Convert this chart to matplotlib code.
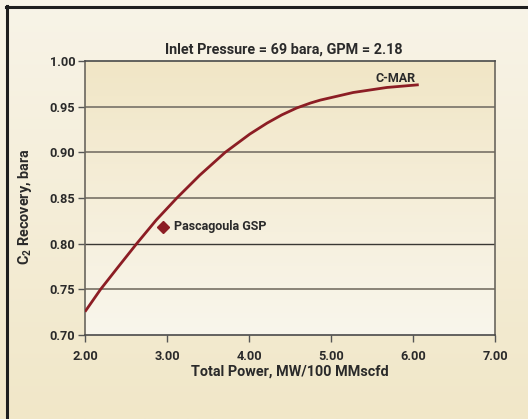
import matplotlib
matplotlib.use("Agg")
import matplotlib.pyplot as plt
import numpy as np
from matplotlib.colors import LinearSegmentedColormap
from matplotlib.lines import Line2D

# Data
cmar_x = [2.00, 2.19, 2.40, 2.63, 2.87, 3.12, 3.40, 3.71, 4.01, 4.22, 4.40, 4.58, 4.75, 4.87, 5.27, 5.68, 6.07]
cmar_y = [0.7255, 0.750, 0.774, 0.800, 0.826, 0.850, 0.875, 0.900, 0.920, 0.932, 0.941, 0.9485, 0.954, 0.9572, 0.9655, 0.971, 0.974]
gsp_x = [2.95]
gsp_y = [0.818]
xticks = [2.0, 3.0, 4.0, 5.0, 6.0, 7.0]
yticks = [0.70, 0.75, 0.80, 0.85, 0.90, 0.95, 1.00]

fam = ['Roboto', 'DejaVu Sans']
plt.rcParams['font.family'] = fam
plt.rcParams['mathtext.fontset'] = 'custom'
plt.rcParams['mathtext.rm'] = 'Roboto:bold'
plt.rcParams['mathtext.it'] = 'Roboto:bold'
plt.rcParams['mathtext.bf'] = 'Roboto:bold'

red = '#8c1d24'
txt = '#2a2a2a'
W, H = 528, 419

fig = plt.figure(figsize=(W / 100, H / 100), dpi=100)

# figure background gradient
bg = fig.add_axes([0, 0, 1, 1], zorder=-10)
cm_out = LinearSegmentedColormap.from_list('o', ['#f8f4e8', '#f1e7c8'])
bg.imshow(np.linspace(0, 1, 256).reshape(-1, 1), aspect='auto', cmap=cm_out,
          extent=[0, 1, 0, 1], origin='upper')
bg.set_xlim(0, 1); bg.set_ylim(0, 1)
bg.axis('off')
bg.add_line(Line2D([6/W, 1], [1 - 7/H, 1 - 7/H], color='#1e1e1e', lw=2.2))
bg.add_line(Line2D([7/W, 7/W], [0, 1 - 6/H], color='#1e1e1e', lw=2.2))

ax = fig.add_axes([85/W, 1 - 335/H, 410/W, 274/H])
ax.set_xlim(2.0, 7.0)
ax.set_ylim(0.70, 1.00)
cm_in = LinearSegmentedColormap.from_list('i', ['#f1e6c6', '#f9f6ec'])
ax.imshow(np.linspace(0, 1, 256).reshape(-1, 1), aspect='auto', cmap=cm_in,
          extent=[0, 1, 0, 1], origin='upper', transform=ax.transAxes, zorder=0)
ax.set_facecolor('none')

ax.set_yticks(yticks)
ax.set_xticks(xticks)
ax.set_yticklabels([f'{v:.2f}' for v in yticks])
ax.set_xticklabels([f'{v:.2f}' for v in xticks])
for v in yticks[1:-1]:
    dark = abs(v - 0.80) < 1e-9
    ax.axhline(v, color='#3a3834' if dark else '#817b6f', lw=1.0 if dark else 1.3, zorder=1)
ax.tick_params(axis='both', direction='out', length=5, width=1, color='#555555',
               labelsize=9.2, labelcolor=txt)
ax.tick_params(axis='x', pad=6)
ax.tick_params(axis='y', pad=2)
for s in ax.spines.values():
    s.set_color('#6a665e')
    s.set_linewidth(1.2)
ax.spines['bottom'].set_color('#4a4a4a')
ax.spines['top'].set_color('#4a4a4a')

ax.plot(cmar_x, cmar_y, color=red, lw=2, zorder=3, solid_capstyle='butt',
        solid_joinstyle='round')
ax.plot(gsp_x, gsp_y, marker='D', color=red, ms=6.5, ls='none', zorder=4)

ax.text(6.03, 0.981, 'C-MAR', ha='right', va='center', fontsize=9, color=txt,
        fontweight='bold')
ax.text(3.09, 0.819, 'Pascagoula GSP', ha='left', va='center', fontsize=9,
        color=txt, fontweight='bold')

ax.set_title('Inlet Pressure = 69 bara, GPM = 2.18', fontsize=10.4, color=txt,
             fontweight='bold', pad=5, x=0.485)
ax.set_xlabel('Total Power, MW/100 MMscfd', fontsize=10.4, color=txt,
              fontweight='bold', labelpad=1)
ax.set_ylabel(r'C$_2$ Recovery, bara', fontsize=10.4, color=txt,
              fontweight='bold', labelpad=6)
ax.yaxis.set_label_coords(-0.125, 0.47)
for lab in ax.get_xticklabels() + ax.get_yticklabels():
    lab.set_fontweight('bold')

fig.savefig('out.png', dpi=100)
